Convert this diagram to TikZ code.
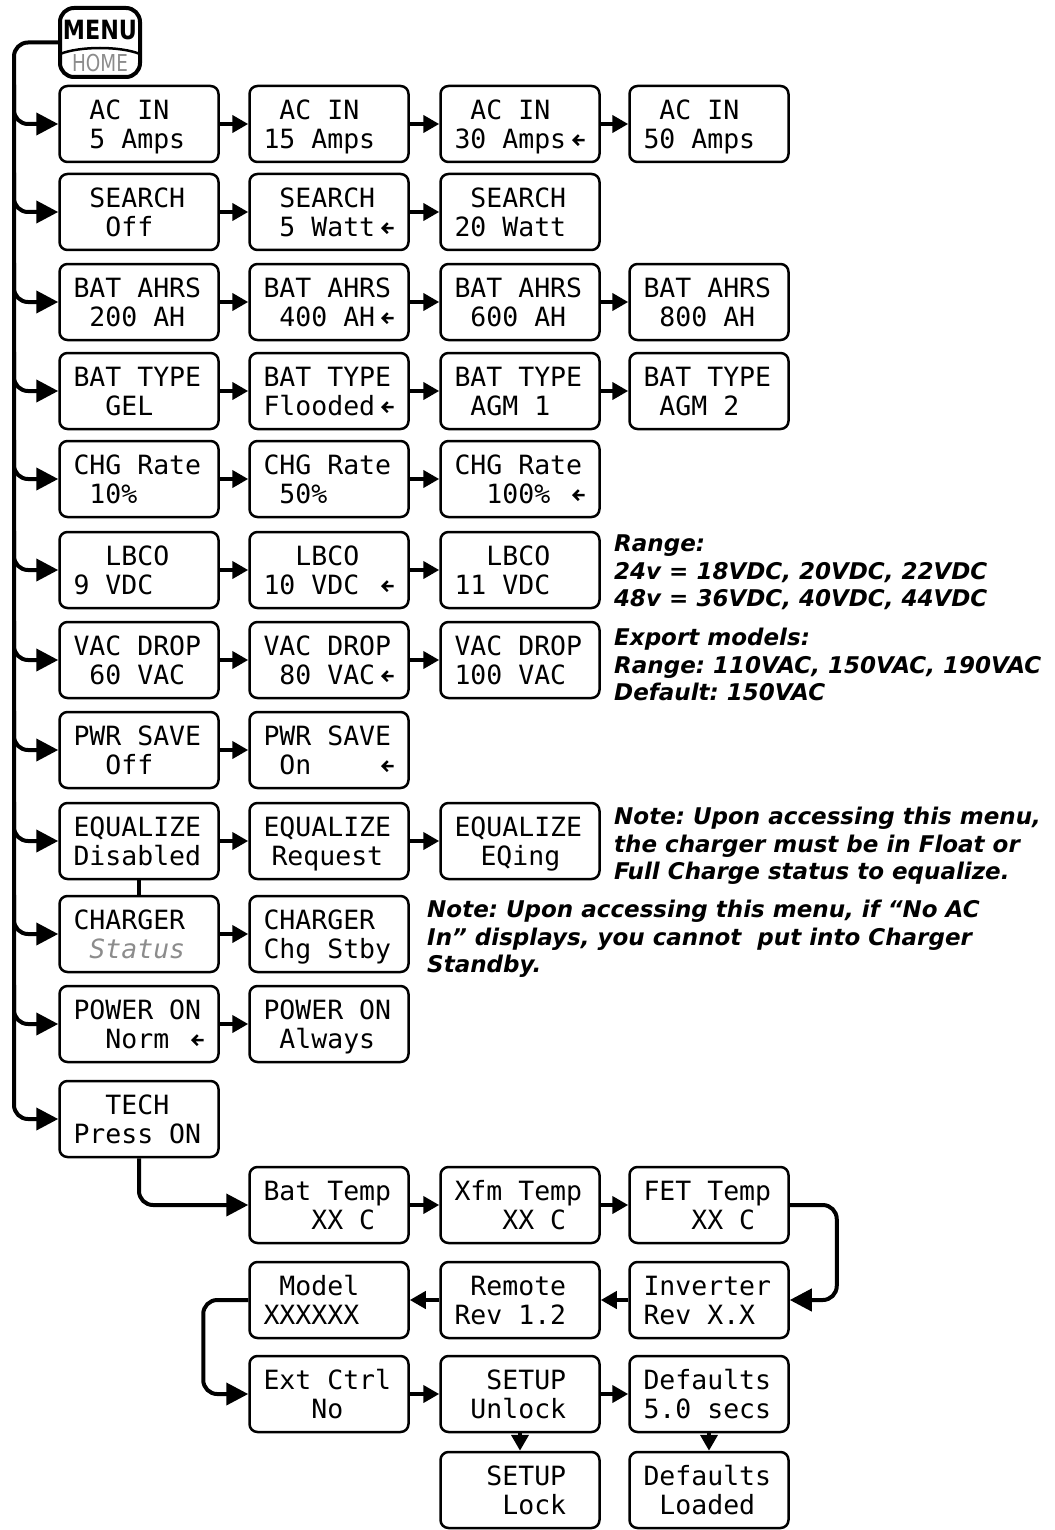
\documentclass[tikz,border=0pt]{standalone}
\usepackage{fontspec}
\setmainfont{DejaVu Sans}
\setsansfont{DejaVu Sans}
\setmonofont{DejaVu Sans Mono}
\usepackage{graphicx}
\usetikzlibrary{arrows.meta}

\definecolor{homegrey}{HTML}{8C8C8C}
\newcommand{\screenfont}{\ttfamily\fontsize{26.5}{29}\selectfont}
\newcommand{\twoline}[2]{\spaceskip=0pt\xspaceskip=0pt\mbox{#1}\\\mbox{#2}}
\newcommand{\dflt}[1]{\makebox[118pt][l]{#1}\tikz[baseline=0pt]\draw[line width=2.4pt,sharp corners,miter limit=4]
	(12pt,8pt) -- (1pt,8pt) (6pt,13pt) -- (1pt,8pt) -- (6pt,3pt);}

\begin{document}
\frenchspacing
\begin{tikzpicture}[x=1pt,y=-1pt,
	screen/.style={draw, line width=2.5pt, rounded corners=8pt, minimum width=159pt, minimum height=76pt,
		inner xsep=14pt, inner ysep=0pt, text width=131pt, align=left, text height=19.3pt, text depth=29pt,
		font=\screenfont},
	nxt/.style={line width=4pt, -{Triangle[length=16pt,width=17pt]}},
	feed/.style={line width=4pt, rounded corners=14pt, -{Triangle[length=22pt,width=22pt]}},
	note/.style={anchor=north west, align=left, inner sep=0pt, font=\sffamily\bfseries\itshape\fontsize{23}{27.5}\selectfont}]
		\useasboundingbox (0,0) rectangle (1054,1530);
		
		% menu / home key
		\node[draw, line width=4pt, rounded corners=14pt, minimum width=80pt, minimum height=69pt, inner sep=0pt] (menu) at (100,42.5) {};
		\draw[line width=2.5pt] (60,54) .. controls (80,46) and (120,46) .. (140,54);
		\node[inner sep=0pt, text height=19.3pt, text depth=0pt, font=\bfseries\fontsize{26.5}{26.5}\selectfont] (menulbl) at (100,29.5) {\scalebox{0.84}[1]{MENU}};
		\node[inner sep=0pt, text height=17pt, text depth=0pt, text=homegrey, font=\fontsize{23.3}{23.3}\selectfont] (homelbl) at (100,63.5) {\scalebox{0.79}[1]{HOME}};
		
		% main menu screens
		\node[screen] (acA) at (139,124) {\twoline{~AC IN}{~5 Amps}};
		\node[screen] (acB) at (329,124) {\twoline{~AC IN}{15 Amps}};
		\node[screen] (acC) at (520,124) {\twoline{~AC IN}{\dflt{30 Amps}}};
		\node[screen] (acD) at (709,124) {\twoline{~AC IN}{50 Amps}};
		
		\node[screen] (searchA) at (139,212) {\twoline{~SEARCH}{~~Off}};
		\node[screen] (searchB) at (329,212) {\twoline{~SEARCH}{\dflt{~5 Watt}}};
		\node[screen] (searchC) at (520,212) {\twoline{~SEARCH}{20 Watt}};
		
		\node[screen] (ahA) at (139,302) {\twoline{BAT AHRS}{~200 AH}};
		\node[screen] (ahB) at (329,302) {\twoline{BAT AHRS}{\dflt{~400 AH}}};
		\node[screen] (ahC) at (520,302) {\twoline{BAT AHRS}{~600 AH}};
		\node[screen] (ahD) at (709,302) {\twoline{BAT AHRS}{~800 AH}};
		
		\node[screen] (typeA) at (139,391) {\twoline{BAT TYPE}{~~GEL}};
		\node[screen] (typeB) at (329,391) {\twoline{BAT TYPE}{\dflt{Flooded}}};
		\node[screen] (typeC) at (520,391) {\twoline{BAT TYPE}{~AGM 1}};
		\node[screen] (typeD) at (709,391) {\twoline{BAT TYPE}{~AGM 2}};
		
		\node[screen] (chgA) at (139,479) {\twoline{CHG Rate}{~10\%}};
		\node[screen] (chgB) at (329,479) {\twoline{CHG Rate}{~50\%}};
		\node[screen] (chgC) at (520,479) {\twoline{CHG Rate}{\dflt{~~100\%}}};
		
		\node[screen] (lbcoA) at (139,570) {\twoline{~~LBCO}{9 VDC}};
		\node[screen] (lbcoB) at (329,570) {\twoline{~~LBCO}{\dflt{10 VDC}}};
		\node[screen] (lbcoC) at (520,570) {\twoline{~~LBCO}{11 VDC}};
		
		\node[screen] (vacA) at (139,660) {\twoline{VAC DROP}{~60 VAC}};
		\node[screen] (vacB) at (329,660) {\twoline{VAC DROP}{\dflt{~80 VAC}}};
		\node[screen] (vacC) at (520,660) {\twoline{VAC DROP}{100 VAC}};
		
		\node[screen] (pwrA) at (139,750) {\twoline{PWR SAVE}{~~Off}};
		\node[screen] (pwrB) at (329,750) {\twoline{PWR SAVE}{\dflt{~On}}};
		
		\node[screen] (eqA) at (139,841) {\twoline{EQUALIZE}{Disabled}};
		\node[screen] (eqB) at (329,841) {\twoline{EQUALIZE}{\hspace*{8pt}Request}};
		\node[screen] (eqC) at (520,841) {\twoline{EQUALIZE}{\hspace*{26pt}EQing}};
		
		\node[screen] (chA) at (139,934) {\twoline{CHARGER}{~{\color{homegrey}\itshape Status}}};
		\node[screen] (chB) at (329,934) {\twoline{CHARGER}{Chg Stby}};
		
		\node[screen] (powA) at (139,1024) {\twoline{POWER ON}{\dflt{~~Norm}}};
		\node[screen] (powB) at (329,1024) {\twoline{POWER ON}{~Always}};
		
		\node[screen] (tech) at (139,1119) {\twoline{~~TECH}{Press ON}};
		
		% tech screens
		\node[screen] (btemp) at (329,1205) {\twoline{Bat Temp}{~~~XX C}};
		\node[screen] (xtemp) at (520,1205) {\twoline{Xfm Temp}{~~~XX C}};
		\node[screen] (ftemp) at (709,1205) {\twoline{FET Temp}{~~~XX C}};
		\node[screen] (model) at (329,1300) {\twoline{~Model}{XXXXXX}};
		\node[screen] (remote) at (520,1300) {\twoline{~Remote}{Rev 1.2}};
		\node[screen] (inv) at (709,1300) {\twoline{Inverter}{Rev X.X}};
		\node[screen] (ext) at (329,1394) {\twoline{Ext Ctrl}{~~~No}};
		\node[screen] (unlock) at (520,1394) {\twoline{~~SETUP}{~Unlock}};
		\node[screen] (dsec) at (709,1394) {\twoline{Defaults}{5.0 secs}};
		\node[screen] (lock) at (520,1490) {\twoline{~~SETUP}{~~~Lock}};
		\node[screen] (dload) at (709,1490) {\twoline{Defaults}{~Loaded}};
		
		% notes
		\node[note] (rangenote) at (614,535) {Range:\\24v = 18VDC, 20VDC, 22VDC\\48v = 36VDC, 40VDC, 44VDC};
		\node[note] (exportnote) at (614,628) {Export models:\\Range: 110VAC, 150VAC, 190VAC\\Default: 150VAC};
		\node[note] (eqnote) at (614,807) {Note: Upon accessing this menu,\\the charger must be in Float or\\Full Charge status to equalize.};
		\node[note] (chgnote) at (427,900) {Note: Upon accessing this menu, if “No AC\\In” displays, you cannot\ \ put into Charger\\Standby.};
		
		% spine and branches
		\coordinate (spine) at (14,0);
		\draw[feed] (menu.west) -| (spine |- tech.west) -- (tech.west);
		\foreach \n in {acA,searchA,ahA,typeA,chgA,lbcoA,vacA,pwrA,eqA,chA,powA}
			\draw[feed] (spine |- \n.north) |- (\n.west);
		
		\foreach \a/\b in {acA/acB,acB/acC,acC/acD,searchA/searchB,searchB/searchC,ahA/ahB,ahB/ahC,ahC/ahD,
			typeA/typeB,typeB/typeC,typeC/typeD,chgA/chgB,chgB/chgC,lbcoA/lbcoB,lbcoB/lbcoC,vacA/vacB,vacB/vacC,
			pwrA/pwrB,eqA/eqB,eqB/eqC,chA/chB,powA/powB,btemp/xtemp,xtemp/ftemp,inv/remote,remote/model,
			ext/unlock,unlock/dsec,unlock/lock,dsec/dload}
			\draw[nxt] (\a) -- (\b);
		
		\draw[line width=3.5pt] (eqA) -- (chA);
		\draw[feed] (tech.south) |- (btemp.west);
		\draw[feed] (ftemp.east) -- ++(47,0) |- (inv.east);
		\draw[feed] (model.west) -- ++(-45,0) |- (ext.west);
\end{tikzpicture}
\end{document}
